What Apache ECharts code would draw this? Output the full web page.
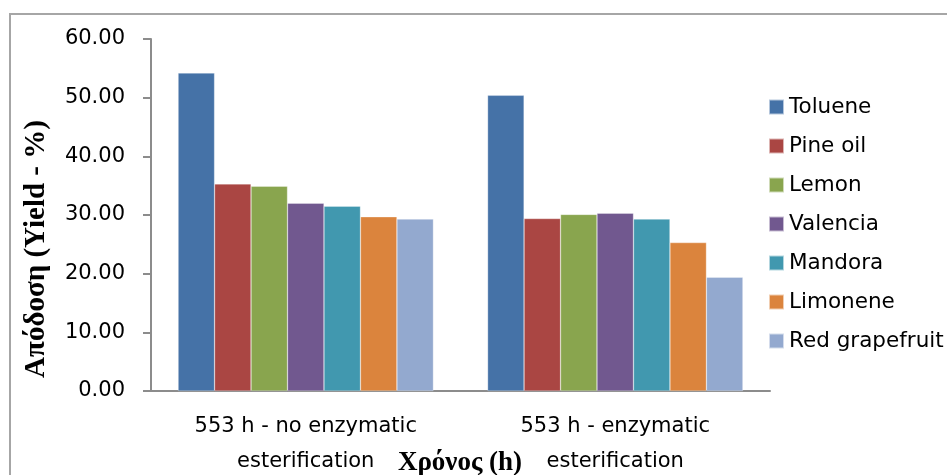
<!DOCTYPE html>
<html>
<head>
<meta charset="utf-8">
<script src="https://cdn.jsdelivr.net/npm/echarts@6/dist/echarts.min.js"></script>
<style>
html,body{margin:0;padding:0;background:#fff;}
#c{width:947px;height:475px;}
</style>
</head>
<body>
<div id="c"></div>
<script>
var categories = ["553 h - no enzymatic\nesterification", "553 h - enzymatic\nesterification"];
var seriesNames = ["Toluene", "Pine oil", "Lemon", "Valencia", "Mandora", "Limonene", "Red grapefruit"];
var toluene = [54.2, 50.4];
var pineOil = [35.3, 29.4];
var lemon = [34.9, 30.1];
var valencia = [32.0, 30.3];
var mandora = [31.5, 29.3];
var limonene = [29.7, 25.3];
var redGrapefruit = [29.3, 19.4];
var yTicks = [0, 10, 20, 30, 40, 50, 60];
var colors = ["#4572A7", "#AA4643", "#89A54E", "#71588F", "#4198AF", "#DB843D", "#93A9CF"];

var values = [toluene, pineOil, lemon, valencia, mandora, limonene, redGrapefruit];
var chart = echarts.init(document.getElementById('c'), null, {renderer: 'canvas'});
var font = "'DejaVu Sans', sans-serif";
chart.setOption({
  animation: false,
  backgroundColor: '#ffffff',
  color: colors,
  graphic: [
    {type: 'rect', shape: {x: 10, y: 14, width: 960, height: 480}, style: {fill: 'none', stroke: '#a6a6a6', lineWidth: 2}, z: 0},
    {type: 'text', x: 37, y: 249, rotation: Math.PI / 2,
     style: {text: 'Απόδοση (Yield - %)', font: "bold 29px 'Liberation Serif', serif", fill: '#000', align: 'center', verticalAlign: 'middle'}},
    {type: 'text', x: 460, y: 463,
     style: {text: 'Χρόνος (h)', font: "bold 27px 'Liberation Serif', serif", fill: '#000', align: 'center', verticalAlign: 'middle'}}
  ],
  legend: {
    orient: 'vertical', left: 768, top: 96, padding: 0,
    itemWidth: 15, itemHeight: 15, itemGap: 17, icon: 'rect',
    textStyle: {fontFamily: font, fontSize: 21.5, color: '#000'},
    data: seriesNames
  },
  grid: {left: 151, right: 177, top: 39, bottom: 84, containLabel: false, outerBoundsMode: 'none'},
  xAxis: {
    type: 'category', data: categories,
    axisLine: {lineStyle: {color: '#8c8c8c', width: 2}},
    axisTick: {show: false},
    axisLabel: {fontFamily: font, fontSize: 21, color: '#000', lineHeight: 35, margin: 18}
  },
  yAxis: {
    type: 'value', min: yTicks[0], max: yTicks[yTicks.length - 1], interval: 10,
    axisLine: {show: true, lineStyle: {color: '#8c8c8c', width: 2}},
    axisTick: {show: true, length: 8, lineStyle: {color: '#8c8c8c', width: 2}},
    splitLine: {show: false},
    axisLabel: {fontFamily: font, fontSize: 21, color: '#000', margin: 26,
      formatter: function (v) { return v.toFixed(2); }}
  },
  series: seriesNames.map(function (n, i) {
    return {name: n, type: 'bar', data: values[i], barGap: '0%', barCategoryGap: '17.5%',
      itemStyle: {color: colors[i], borderColor: 'rgba(255,255,255,0.6)', borderWidth: 0.5}};
  })
});
</script>
</body>
</html>
